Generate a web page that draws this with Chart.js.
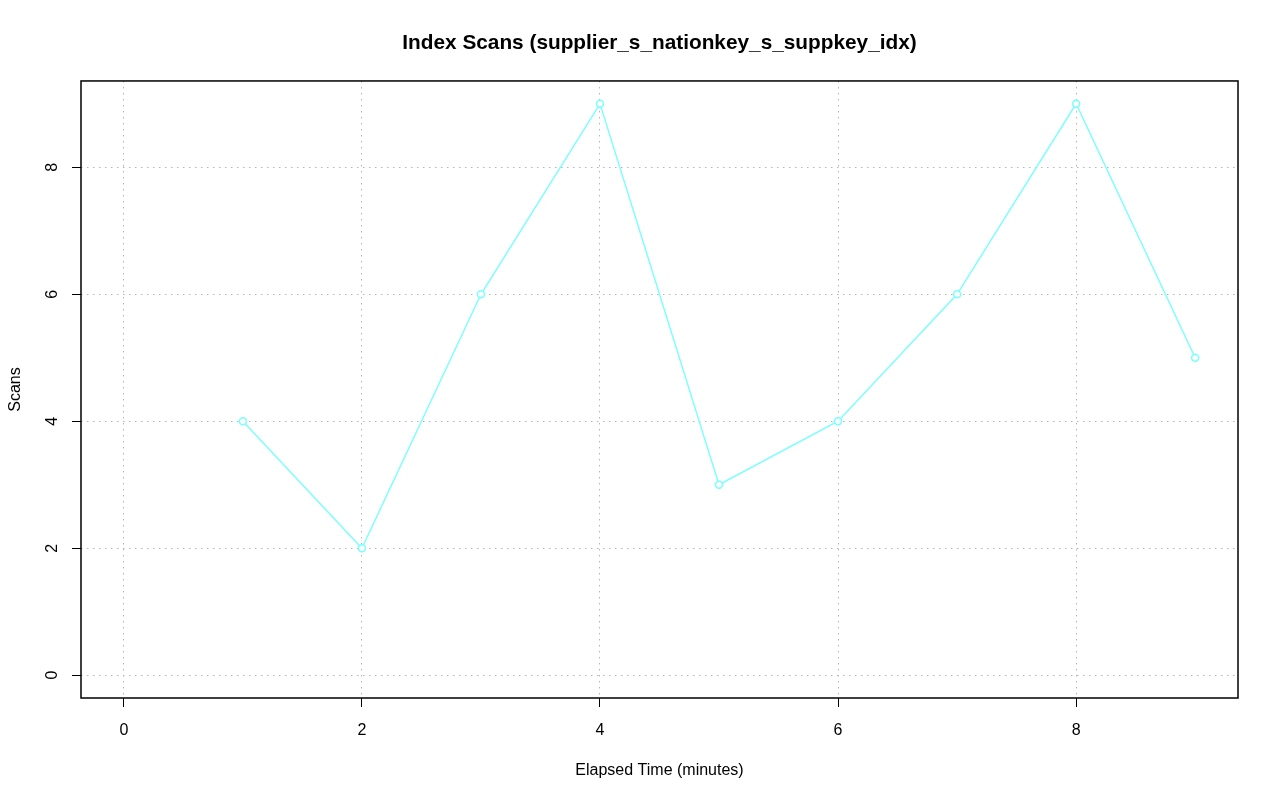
<!DOCTYPE html>
<html>
<head>
<meta charset="utf-8">
<script src="https://cdn.jsdelivr.net/npm/chart.js@4/dist/chart.umd.min.js"></script>
<style>
  html, body { margin: 0; padding: 0; background: #fff; }
  #wrap { width: 1280px; height: 801px; }
</style>
</head>
<body>
<div id="wrap"><canvas id="myChart"></canvas></div>
<script>
const minutes = [1, 2, 3, 4, 5, 6, 7, 8, 9];
const scans = [4, 2, 6, 9, 3, 4, 6, 9, 5];
const xTicks = [0, 2, 4, 6, 8];
const yTicks = [0, 2, 4, 6, 8];

const font = "'Liberation Sans', Arial, sans-serif";

// box around the plot region, like R's box(); title centred over the plot region
const boxPlugin = {
  id: 'box',
  afterLayout(chart) {
    const t = chart.titleBlock, a = chart.chartArea;
    if (t) {
      t.left = a.left;
      t.right = a.right;
      t.width = a.right - a.left;
    }
  },
  afterDraw(chart) {
    const a = chart.chartArea, ctx = chart.ctx;
    ctx.save();
    ctx.strokeStyle = '#000';
    ctx.lineWidth = 1.5;
    ctx.strokeRect(a.left, a.top, a.right - a.left, a.bottom - a.top);
    ctx.restore();
  }
};

const gridOpts = {
  color: '#b4b4b4',
  lineWidth: 1,
  tickLength: 9,
  tickColor: '#000',
  tickBorderDash: [],
  tickWidth: 1
};

const config = {
  type: 'line',
  data: {
    datasets: [{
      label: 'Scans',
      data: minutes.map((m, i) => ({ x: m, y: scans[i] })),
      borderColor: 'rgb(120, 255, 255)',
      backgroundColor: '#fff',
      borderWidth: 1.4,
      pointRadius: 3.5,
      pointBorderWidth: 1.5,
      pointBorderColor: 'rgb(120, 255, 255)',
      pointBackgroundColor: '#fff',
      tension: 0
    }]
  },
  options: {
    responsive: true,
    maintainAspectRatio: false,
    animation: false,
    layout: { padding: { left: 0, right: 42, top: 0, bottom: 0 } },
    plugins: {
      legend: { display: false },
      tooltip: { enabled: false },
      title: {
        display: true,
        text: 'Index Scans (supplier_s_nationkey_s_suppkey_idx)',
        color: '#000',
        font: { family: font, size: 20.8, weight: 'bold', lineHeight: 1.2 },
        padding: { top: 31, bottom: 25 }
      }
    },
    scales: {
      x: {
        type: 'linear',
        min: -0.36,
        max: 9.36,
        afterBuildTicks: s => { s.ticks = xTicks.map(v => ({ value: v })); },
        afterFit: s => { s.height = 103; },
        border: { display: false, dash: [1.5, 4.5] },
        grid: gridOpts,
        ticks: { color: '#000', font: { family: font, size: 16 }, padding: 14, maxRotation: 0 },
        title: {
          display: true,
          text: 'Elapsed Time (minutes)',
          color: '#000',
          font: { family: font, size: 16 },
          padding: { top: 0, bottom: 21 }
        }
      },
      y: {
        min: -0.36,
        max: 9.36,
        afterBuildTicks: s => { s.ticks = yTicks.map(v => ({ value: v })); },
        afterFit: s => { s.width = 81; },
        border: { display: false, dash: [1.5, 4.5] },
        grid: gridOpts,
        ticks: {
          color: '#000',
          font: { family: font, size: 16 },
          padding: 15,
          minRotation: 90,
          maxRotation: 90,
          crossAlign: 'center'
        },
        title: {
          display: true,
          text: 'Scans',
          color: '#000',
          font: { family: font, size: 16 },
          padding: { top: 6, bottom: 0 }
        }
      }
    }
  },
  plugins: [boxPlugin]
};

const myChart = new Chart(document.getElementById('myChart'), config);
</script>
</body>
</html>
